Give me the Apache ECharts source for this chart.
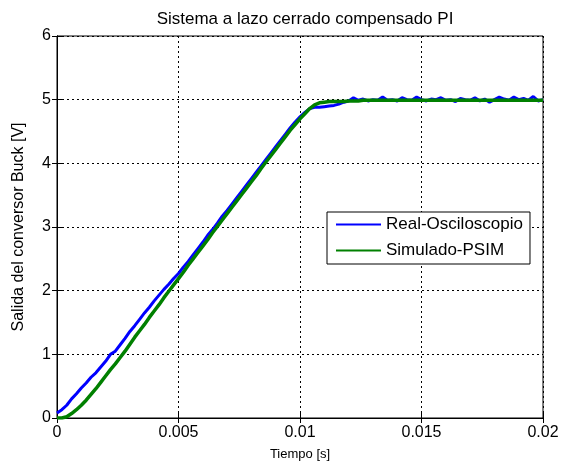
<!DOCTYPE html>
<html>
<head>
<meta charset="utf-8">
<script src="https://cdn.jsdelivr.net/npm/echarts@6/dist/echarts.min.js"></script>
<style>html,body{margin:0;padding:0;background:#fff}#c{width:561px;height:461px}</style>
</head>
<body>
<div id="c"></div>
<script>
const timeS = [0,0.0002,0.0004,0.0006,0.0008,0.001,0.0012,0.0014,0.0016,0.0018,
0.002,0.0022,0.0024,0.0026,0.0028,0.003,0.0032,0.0034,0.0036,0.0038,
0.004,0.0042,0.0044,0.0046,0.0048,0.005,0.0052,0.0054,0.0056,0.0058,
0.006,0.0062,0.0064,0.0066,0.0068,0.007,0.0072,0.0074,0.0076,0.0078,
0.008,0.0082,0.0084,0.0086,0.0088,0.009,0.0092,0.0094,0.0096,0.0098,
0.01,0.0102,0.0104,0.0106,0.0108,0.011,0.0112,0.0114,0.0116,0.0118,
0.012,0.0122,0.0124,0.0126,0.0128,0.013,0.0132,0.0134,0.0136,0.0138,
0.014,0.0142,0.0144,0.0146,0.0148,0.015,0.0152,0.0154,0.0156,0.0158,
0.016,0.0162,0.0164,0.0166,0.0168,0.017,0.0172,0.0174,0.0176,0.0178,
0.018,0.0182,0.0184,0.0186,0.0188,0.019,0.0192,0.0194,0.0196,0.0198,0.02];

const realOsc = [0.08,0.13,0.20,0.30,0.38,0.47,0.55,0.64,0.71,0.80,
0.89,1.00,1.05,1.15,1.25,1.36,1.45,1.55,1.65,1.74,
1.84,1.93,2.02,2.10,2.19,2.27,2.37,2.46,2.56,2.66,
2.76,2.87,2.96,3.06,3.17,3.26,3.36,3.46,3.56,3.66,
3.76,3.86,3.96,4.06,4.16,4.26,4.36,4.46,4.56,4.65,
4.73,4.80,4.86,4.88,4.88,4.89,4.90,4.91,4.93,4.96,
4.98,5.03,4.99,5.01,4.98,5.00,4.99,5.04,4.99,5.00,
4.98,5.03,5.00,4.99,5.04,5.00,4.98,5.01,5.00,5.03,
4.99,5.00,4.97,5.02,5.00,4.99,5.03,4.98,5.01,4.96,
5.00,5.04,5.01,4.99,5.04,5.00,5.02,4.99,5.05,4.98,5.00];

const simPsim = [0,0,0.02,0.07,0.13,0.20,0.28,0.37,0.46,0.56,
0.66,0.76,0.85,0.95,1.05,1.16,1.27,1.37,1.47,1.58,
1.68,1.78,1.89,1.99,2.09,2.19,2.29,2.40,2.50,2.60,
2.70,2.80,2.91,3.01,3.11,3.21,3.31,3.41,3.51,3.61,
3.71,3.81,3.92,4.02,4.12,4.22,4.32,4.42,4.52,4.61,
4.70,4.78,4.86,4.92,4.95,4.96,4.97,4.97,4.97,4.97,
4.98,4.98,4.98,4.99,4.99,4.99,4.99,4.99,4.99,4.99,
4.99,4.99,4.99,4.99,4.99,4.99,4.99,4.99,4.99,4.99,
4.99,4.99,4.99,4.99,4.99,4.99,4.99,4.99,4.99,4.99,
4.99,4.99,4.99,4.99,4.99,4.99,4.99,4.99,4.99,4.99,4.99];

const xTickLabels = {'0':'0','0.005':'0.005','0.01':'0.01','0.015':'0.015','0.02':'0.02'};
const yTickLabels = ['0','1','2','3','4','5','6'];

const FONT = 'Liberation Sans, Arial, sans-serif';
const pair = (ts, vs) => ts.map((t, i) => [t, vs[i]]);
const fmtX = v => { const k = String(Math.round(v * 1000) / 1000); return xTickLabels[k] !== undefined ? xTickLabels[k] : k; };

const chart = echarts.init(document.getElementById('c'), null, {renderer: 'canvas'});
chart.setOption({
  animation: false,
  backgroundColor: '#fff',
  title: {
    text: 'Sistema a lazo cerrado compensado PI',
    left: 300, top: 6, textAlign: 'center',
    textStyle: {fontFamily: FONT, fontSize: 17, fontWeight: 'normal', color: '#000'}
  },
  grid: {left: 57, right: 18, top: 36, bottom: 43, show: true, borderColor: '#000', borderWidth: 1,
         backgroundColor: '#fff', containLabel: false, outerBoundsMode: 'none'},
  legend: {
    orient: 'vertical', left: 327, top: 212,
    backgroundColor: '#fff', borderColor: '#000', borderWidth: 1,
    padding: [4, 7, 5, 9], itemGap: 9, itemWidth: 45, itemHeight: 16,
    textStyle: {fontFamily: FONT, fontSize: 17, color: '#000', padding: [0, 0, 0, 0]},
    data: [
      {name: 'Real-Osciloscopio', icon: 'path://M0,7 L45,7 L45,9 L0,9 Z'},
      {name: 'Simulado-PSIM', icon: 'path://M0,7 L45,7 L45,9 L0,9 Z'}
    ]
  },
  xAxis: [{
    type: 'value', min: 0, max: 0.02, interval: 0.005,
    name: 'Tiempo [s]', nameLocation: 'middle', nameGap: 30,
    nameTextStyle: {fontFamily: FONT, fontSize: 13, color: '#000'},
    axisLine: {show: true, lineStyle: {color: '#000', width: 1}},
    axisTick: {show: true, inside: true, length: 5, lineStyle: {color: '#000'}},
    axisLabel: {fontFamily: FONT, fontSize: 16, color: '#000', margin: 7, formatter: fmtX},
    splitLine: {show: true, lineStyle: {color: '#000', type: [2, 3], width: 1}}
  }, {
    type: 'value', position: 'top', min: 0, max: 0.02, interval: 0.005,
    axisLine: {show: true, lineStyle: {color: '#000'}},
    axisTick: {show: true, inside: true, length: 5, lineStyle: {color: '#000'}},
    axisLabel: {show: false}, splitLine: {show: false}
  }],
  yAxis: [{
    type: 'value', min: 0, max: 6, interval: 1,
    name: 'Salida del conversor Buck [V]', nameLocation: 'middle', nameGap: 30,
    nameTextStyle: {fontFamily: FONT, fontSize: 16, color: '#000'},
    axisLine: {show: true, lineStyle: {color: '#000', width: 1}},
    axisTick: {show: true, inside: true, length: 5, lineStyle: {color: '#000'}},
    axisLabel: {fontFamily: FONT, fontSize: 16, color: '#000', margin: 6, formatter: v => yTickLabels[v]},
    splitLine: {show: true, lineStyle: {color: '#000', type: [2, 3], width: 1}}
  }, {
    type: 'value', position: 'right', min: 0, max: 6, interval: 1,
    axisLine: {show: true, lineStyle: {color: '#000'}},
    axisTick: {show: true, inside: true, length: 5, lineStyle: {color: '#000'}},
    axisLabel: {show: false}, splitLine: {show: false}
  }],
  series: [{
    name: 'Real-Osciloscopio', type: 'line', data: pair(timeS, realOsc),
    showSymbol: false, color: '#0000ff', lineStyle: {width: 3, color: '#0000ff'}, z: 3
  }, {
    name: 'Simulado-PSIM', type: 'line', data: pair(timeS, simPsim),
    showSymbol: false, color: '#008000', lineStyle: {width: 3.5, color: '#008000'}, z: 4
  }]
});
</script>
</body>
</html>
